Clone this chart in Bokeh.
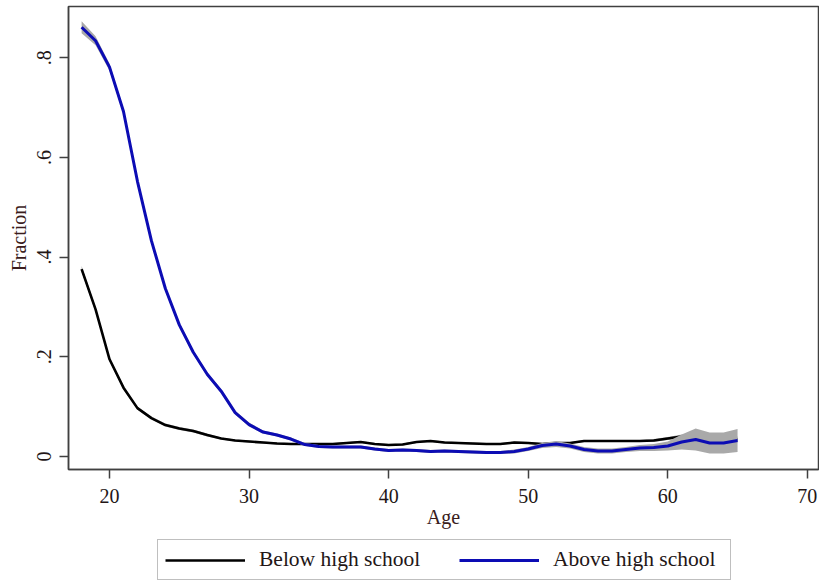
from bokeh.plotting import figure
from bokeh.layouts import column
from bokeh.models import ColumnDataSource, Legend, LegendItem, Range1d, FixedTicker
from bokeh.embed import file_html
from bokeh.resources import INLINE

ages = list(range(18, 66))

below_hs = [0.376, 0.295, 0.195, 0.138, 0.097, 0.077, 0.063, 0.056, 0.051, 0.043,
            0.036, 0.032, 0.030, 0.028, 0.026, 0.025, 0.025, 0.025, 0.025, 0.027,
            0.029, 0.025, 0.023, 0.024, 0.029, 0.031, 0.028, 0.027, 0.026, 0.025,
            0.025, 0.028, 0.027, 0.025, 0.027, 0.027, 0.031, 0.031, 0.031, 0.031,
            0.031, 0.032, 0.036, 0.040, 0.038, 0.036, 0.034, 0.034]
below_hs_se = [0.006, 0.005, 0.004, 0.004, 0.003, 0.003, 0.003, 0.003, 0.003, 0.003,
               0.002, 0.002, 0.002, 0.002, 0.002, 0.002, 0.002, 0.002, 0.002, 0.002,
               0.002, 0.002, 0.002, 0.002, 0.002, 0.002, 0.002, 0.002, 0.002, 0.002,
               0.002, 0.002, 0.002, 0.002, 0.002, 0.002, 0.002, 0.002, 0.002, 0.002,
               0.002, 0.003, 0.003, 0.004, 0.005, 0.005, 0.005, 0.006]

above_hs = [0.861, 0.834, 0.781, 0.692, 0.552, 0.433, 0.337, 0.264, 0.209, 0.165,
            0.131, 0.088, 0.064, 0.049, 0.043, 0.035, 0.024, 0.020, 0.019, 0.019,
            0.019, 0.015, 0.012, 0.013, 0.012, 0.010, 0.011, 0.010, 0.009, 0.008,
            0.008, 0.010, 0.015, 0.022, 0.025, 0.021, 0.014, 0.011, 0.011, 0.014,
            0.017, 0.018, 0.021, 0.029, 0.034, 0.027, 0.027, 0.032]
above_hs_se = [0.012, 0.009, 0.007, 0.006, 0.005, 0.005, 0.005, 0.005, 0.004, 0.004,
               0.004, 0.004, 0.004, 0.003, 0.003, 0.003, 0.003, 0.003, 0.003, 0.003,
               0.003, 0.003, 0.003, 0.003, 0.003, 0.003, 0.003, 0.003, 0.003, 0.003,
               0.003, 0.004, 0.004, 0.005, 0.006, 0.005, 0.005, 0.005, 0.005, 0.005,
               0.006, 0.007, 0.009, 0.015, 0.022, 0.021, 0.021, 0.023]

x_ticks = [20, 30, 40, 50, 60, 70]
y_ticks = [0, 0.2, 0.4, 0.6, 0.8]
y_tick_labels = ["0", ".2", ".4", ".6", ".8"]
series_names = ["Below high school", "Above high school"]

FONT = "Liberation Serif"
TXT = "#231616"
BLACK = "black"
BLUE = "#0c0cb4"
BAND = "#a9a9a9"

src = ColumnDataSource(dict(
    age=ages,
    b=below_hs,
    b_lo=[v - s for v, s in zip(below_hs, below_hs_se)],
    b_hi=[v + s for v, s in zip(below_hs, below_hs_se)],
    a=above_hs,
    a_lo=[v - s for v, s in zip(above_hs, above_hs_se)],
    a_hi=[v + s for v, s in zip(above_hs, above_hs_se)],
))

p = figure(width=819, height=533, output_backend="svg", toolbar_location=None,
           x_range=Range1d(17.06, 70.8), y_range=Range1d(-0.0261, 0.9027),
           min_border_left=68, min_border_right=1, min_border_top=6, min_border_bottom=64)

p.varea(x="age", y1="b_lo", y2="b_hi", source=src, fill_color=BAND, fill_alpha=1.0)
p.line(x="age", y="b", source=src, line_color=BLACK, line_width=2.6)
p.varea(x="age", y1="a_lo", y2="a_hi", source=src, fill_color=BAND, fill_alpha=1.0)
p.line(x="age", y="a", source=src, line_color=BLUE, line_width=3)

p.xgrid.visible = False
p.ygrid.visible = False
p.outline_line_color = "#404040"
p.outline_line_width = 1.5
p.background_fill_color = "white"
p.border_fill_color = "white"

for ax in (p.xaxis[0], p.yaxis[0]):
    ax.axis_line_color = "#404040"
    ax.axis_line_width = 1.5
    ax.major_tick_line_color = "#404040"
    ax.major_tick_line_width = 1.5
    ax.major_tick_out = 9
    ax.major_tick_in = 0
    ax.minor_tick_line_color = None
    ax.major_label_text_font = FONT
    ax.major_label_text_font_size = "20px"
    ax.major_label_text_color = TXT
    ax.axis_label_text_font = FONT
    ax.axis_label_text_font_size = "20px"
    ax.axis_label_text_font_style = "normal"
    ax.axis_label_text_color = "#3a1c1c"

p.xaxis.ticker = FixedTicker(ticks=x_ticks)
p.xaxis.axis_label = "Age"
p.xaxis.major_label_standoff = 10
p.xaxis.axis_label_standoff = 0

p.yaxis.ticker = FixedTicker(ticks=y_ticks)
p.yaxis.major_label_overrides = {t: l for t, l in zip(y_ticks, y_tick_labels)}
p.yaxis.major_label_orientation = "vertical"
p.yaxis.axis_label = "Fraction"
p.yaxis.major_label_standoff = 8
p.yaxis.axis_label_standoff = 5

# legend strip below the chart (series drawn off-range there, only their legend glyphs show)
lg = figure(width=819, height=47, output_backend="svg", toolbar_location=None,
            x_range=Range1d(0, 1), y_range=Range1d(10, 11),
            min_border_left=0, min_border_right=0, min_border_top=0, min_border_bottom=0)
lg.axis.visible = False
lg.xgrid.visible = False
lg.ygrid.visible = False
lg.outline_line_color = None
lg.border_fill_color = "white"
lg_b = lg.line(x="age", y="b", source=src, line_color=BLACK, line_width=2.6)
lg_a = lg.line(x="age", y="a", source=src, line_color=BLUE, line_width=3)

legend = Legend(items=[LegendItem(label=series_names[0], renderers=[lg_b]),
                       LegendItem(label=series_names[1], renderers=[lg_a])],
                orientation="horizontal", location=(89, 0),
                label_text_font=FONT, label_text_font_size="21.5px", label_text_color=TXT,
                glyph_width=80, label_standoff=14, label_width=170, spacing=30,
                padding=7, margin=0,
                border_line_color="#808080", border_line_width=1.5,
                background_fill_color="white", background_fill_alpha=1.0)
lg.add_layout(legend)

layout = column(p, lg, spacing=0)
open("out.html", "w").write(file_html(layout, INLINE))
